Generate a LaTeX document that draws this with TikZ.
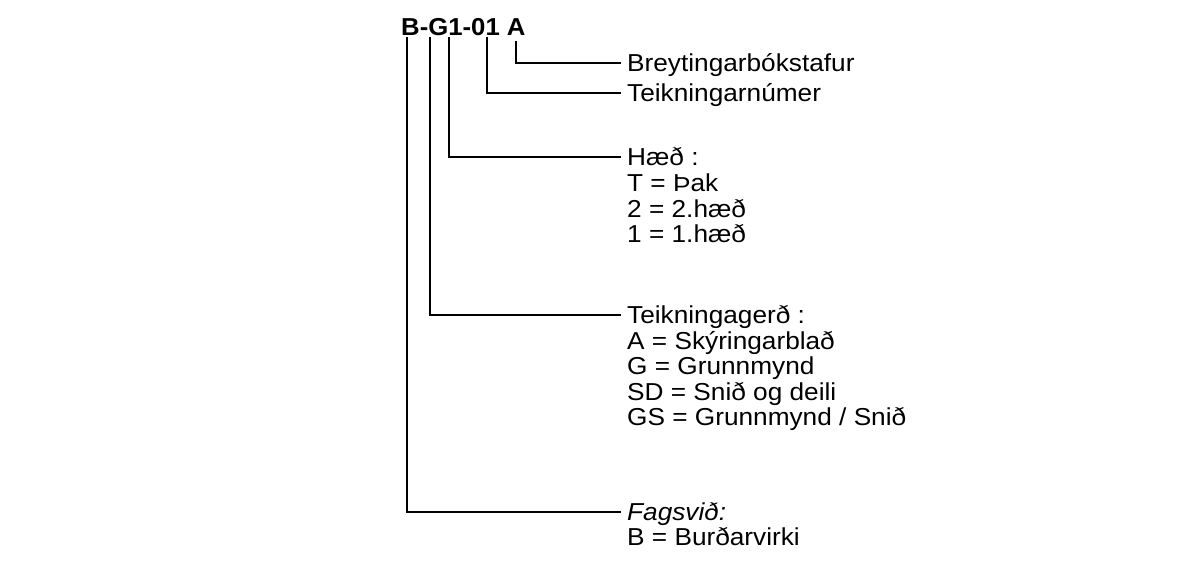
\documentclass[tikz,border=0pt]{standalone}
\usepackage{fontspec}
\setmainfont{Liberation Sans}[FakeStretch=1.07]
\newfontfamily\titlefont{Liberation Sans Bold}[FakeStretch=1.05]
\begin{document}
\begin{tikzpicture}[x=1pt,y=-1pt,
  txt/.style={font=\fontsize{24.5}{25}\selectfont},
  lab/.style={txt, anchor=west, inner xsep=7pt, inner ysep=0pt, text height=17.5pt, text depth=0pt},
  conn/.style={line width=1.3pt, line cap=rect}]
\useasboundingbox (0,0) rectangle (1192,565);
\node[font=\titlefont\fontsize{24.5}{25}\selectfont, anchor=base west, inner sep=0pt] (title) at (401,35) {B-G1-01 A};
\coordinate (cB) at (407,38);
\coordinate (cG) at (430,38);
\coordinate (c1) at (449,38);
\coordinate (c01) at (487,38);
\coordinate (cA) at (516,42);
% labels
\node[lab] (brey) at (620,63) {Breytingarbókstafur};
\node[lab] (teik) at (620,93) {Teikningarnúmer};
\node[lab] (haed) at (620,157) {Hæð :};
\node[lab] (h1) at (620,183) {T = Þak};
\node[lab] (h2) at (620,209) {2 = 2.hæð};
\node[lab] (h3) at (620,234) {1 = 1.hæð};
\node[lab] (gerd) at (620,315) {Teikningagerð :};
\node[lab] (g1) at (620,341) {A = Skýringarblað};
\node[lab] (g2) at (620,366) {G = Grunnmynd};
\node[lab] (g3) at (620,392) {SD = Snið og deili};
\node[lab] (g4) at (620,417) {GS = Grunnmynd / Snið};
\node[lab] (fag) at (620,512) {\itshape Fagsvið:};
\node[lab] (f1) at (620,537) {B = Burðarvirki};
% connectors
\draw[conn] (cA) |- (brey.west);
\draw[conn] (c01) |- (teik.west);
\draw[conn] (c1) |- (haed.west);
\draw[conn] (cG) |- (gerd.west);
\draw[conn] (cB) |- (fag.west);
\end{tikzpicture}
\end{document}
